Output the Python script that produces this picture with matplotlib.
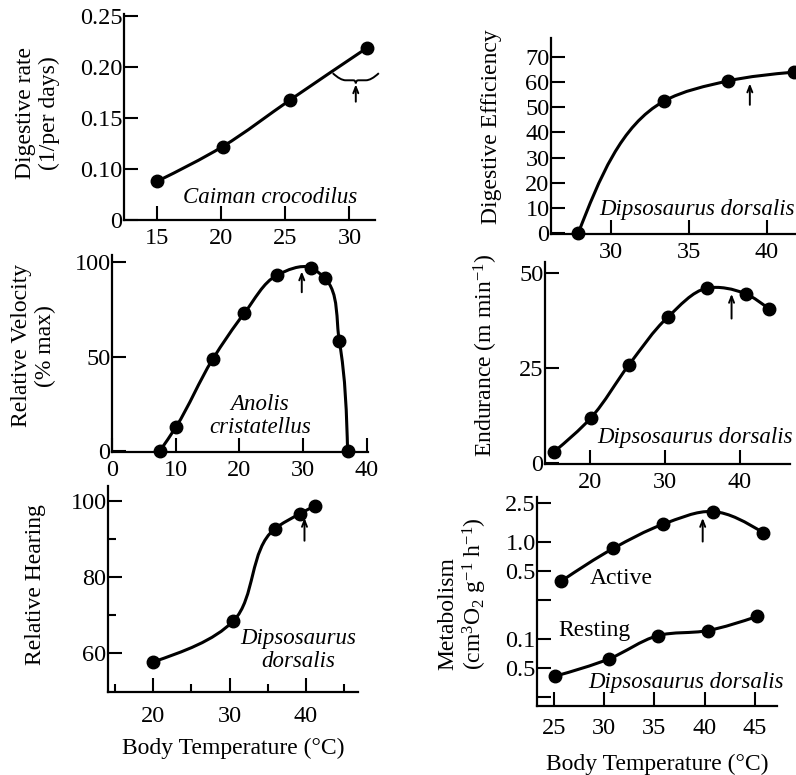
import numpy as np
import matplotlib
matplotlib.use('Agg')
import matplotlib.pyplot as plt
from matplotlib.path import Path
from matplotlib.patches import PathPatch
from matplotlib.ticker import FixedLocator, NullLocator

plt.rcParams['font.family'] = ['Liberation Serif', 'DejaVu Serif']
plt.rcParams['mathtext.fontset'] = 'custom'
plt.rcParams['mathtext.rm'] = 'Liberation Serif'
plt.rcParams['mathtext.it'] = 'Liberation Serif:italic'

# --- data ---
caiman_t = [15, 20.1, 25.4, 31.4]
caiman_rate = [0.088, 0.122, 0.168, 0.219]

eff_t = [27.9, 33.4, 37.5, 41.7]
eff_val = [0, 52.5, 60.5, 64]

anolis_t = [7.5, 10.0, 15.8, 20.8, 25.9, 31.2, 33.4, 35.7, 37.0]
anolis_vel = [0, 12.5, 48.5, 73, 93, 97, 91.5, 58, 0]

endur_t = [15.2, 20.1, 25.2, 30.4, 35.6, 40.8, 43.9]
endur_val = [2.9, 11.8, 25.8, 38.4, 46, 44.5, 40.5]

hear_t = [20, 30.5, 35.9, 39.2, 41.2]
hear_val = [57.6, 68.4, 92.6, 96.6, 98.7]

active_t = [25.7, 30.9, 35.8, 40.8, 45.8]
active_val = [0.39, 0.85, 1.50, 2.04, 1.24]
resting_t = [25.1, 30.5, 35.3, 40.3, 45.2]
resting_val = [0.041, 0.062, 0.107, 0.121, 0.169]

# preferred temperature arrows: (x, tail y, tip y)
arrow_caiman = (30.5, 0.166, 0.183)
arrow_eff = (38.9, 51, 59.5)
arrow_anolis = (29.8, 84, 95)
arrow_endur = (38.9, 38, 44.5)
arrow_hear = (39.8, 89.5, 95.5)
arrow_metab = (39.8, 1.0, 1.75)

TICK = 17.5
LAB = 17
SPEC = 16.5

W, H = 796, 775
fig = plt.figure(figsize=(W / 100, H / 100), dpi=100)


def panel(l, t, r, b):
    ax = fig.add_axes([l / W, 1 - b / H, (r - l) / W, (b - t) / H])
    ax.spines['top'].set_visible(False)
    ax.spines['right'].set_visible(False)
    for s in ('left', 'bottom'):
        ax.spines[s].set_linewidth(1.6)
    ax.tick_params(direction='in', length=10, width=1.5, labelsize=TICK)
    ax.tick_params(axis='y', pad=1)
    ax.tick_params(axis='x', pad=6)
    ax.tick_params(which='minor', direction='in', length=6, width=1.5)
    return ax


def curve(ax, x, y):
    # smooth Hermite/Bezier curve through the points, built in display space
    D = ax.transData.transform(np.column_stack([x, y]))
    n = len(D)
    h = np.linalg.norm(np.diff(D, axis=0), axis=1)
    u = np.diff(D, axis=0) / h[:, None]
    T = np.zeros_like(D)
    for i in range(1, n - 1):
        T[i] = (u[i - 1] * h[i] + u[i] * h[i - 1]) / (h[i - 1] + h[i])
    T[0] = (3 * u[0] - T[1]) / 2 if n > 2 else u[0]
    T[-1] = (3 * u[-1] - T[-2]) / 2 if n > 2 else u[-1]
    verts = [D[0]]
    codes = [Path.MOVETO]
    for i in range(n - 1):
        verts += [D[i] + T[i] * h[i] / 3, D[i + 1] - T[i + 1] * h[i] / 3, D[i + 1]]
        codes += [Path.CURVE4] * 3
    verts = ax.transData.inverted().transform(np.array(verts))
    ax.add_patch(PathPatch(Path(verts, codes), fill=False, lw=2.2,
                           edgecolor='black', capstyle='round', zorder=2))
    ax.plot(x, y, 'o', color='black', markersize=9, zorder=3, clip_on=False)


def pref_arrow(ax, a):
    ax.annotate('', xy=(a[0], a[2]), xytext=(a[0], a[1]),
                arrowprops=dict(arrowstyle='->,head_length=0.45,head_width=0.18',
                                lw=1.4, color='black', shrinkA=0, shrinkB=0))


def species(ax, x, y, s):
    ax.text(x, y, s, style='italic', fontsize=SPEC, ha='center', va='center',
            linespacing=1.1)


# ---- Caiman crocodilus ----
ax1 = panel(124, 14, 375, 220)
ax1.set_xlim(12.4, 32.0)
ax1.set_ylim(0.05, 0.252)
curve(ax1, caiman_t, caiman_rate)
ax1.set_xticks([15, 20, 25, 30])
ax1.set_yticks([0.05, 0.10, 0.15, 0.20, 0.25])
ax1.set_yticklabels(['0', '0.10', '0.15', '0.20', '0.25'])
ax1.set_ylabel('Digestive rate\n(1/per days)', fontsize=LAB, linespacing=1.15)
ax1.yaxis.set_label_coords(-0.255, 0.52)
species(ax1, 23.8, 0.072, 'Caiman crocodilus')
# curly brace over the preferred range
bx = [28.7, 29.3, 29.7, 30.3, 30.5, 30.5, 30.5, 30.7, 31.3, 31.7, 32.3]
by = [0.194, 0.187, 0.187, 0.187, 0.187, 0.184, 0.187, 0.187, 0.187, 0.187, 0.194]
bcodes = [Path.MOVETO, Path.CURVE3, Path.CURVE3, Path.LINETO, Path.CURVE3, Path.CURVE3,
          Path.CURVE3, Path.CURVE3, Path.LINETO, Path.CURVE3, Path.CURVE3]
ax1.add_patch(PathPatch(Path(np.column_stack([bx, by]), bcodes), fill=False,
                        lw=1.4, edgecolor='black', clip_on=False))
pref_arrow(ax1, arrow_caiman)

# ---- Digestive efficiency ----
ax2 = panel(551, 38, 796, 234)
ax2.set_xlim(26.15, 41.86)
ax2.set_ylim(-0.4, 77.6)
curve(ax2, eff_t, eff_val)
ax2.set_xticks([30, 35, 40])
ax2.set_yticks(range(0, 80, 10))
ax2.set_ylabel('Digestive Efficiency', fontsize=LAB)
ax2.yaxis.set_label_coords(-0.2, 0.55)
species(ax2, 35.5, 9.5, 'Dipsosaurus dorsalis')
pref_arrow(ax2, arrow_eff)

# ---- Anolis cristatellus ----
ax3 = panel(112, 255, 368, 452)
ax3.set_xlim(0, 40.2)
ax3.set_ylim(-0.5, 103.7)
curve(ax3, anolis_t, anolis_vel)
ax3.set_xticks([0, 10, 20, 30, 40])
ax3.set_yticks([0, 50, 100])
ax3.set_ylabel('Relative Velocity\n(% max)', fontsize=LAB, linespacing=1.15)
ax3.yaxis.set_label_coords(-0.22, 0.54)
species(ax3, 23.2, 18.5, 'Anolis\ncristatellus')
pref_arrow(ax3, arrow_anolis)

# ---- Endurance ----
ax4 = panel(545, 262, 790, 464)
ax4.set_xlim(14, 46.7)
ax4.set_ylim(-0.3, 52.9)
curve(ax4, endur_t, endur_val)
ax4.set_xticks([20, 30, 40])
ax4.set_yticks([0, 25, 50])
ax4.set_ylabel('Endurance (m min$^{-1}$)', fontsize=LAB)
ax4.yaxis.set_label_coords(-0.185, 0.535)
species(ax4, 34, 6.8, 'Dipsosaurus dorsalis')
pref_arrow(ax4, arrow_endur)

# ---- Relative hearing ----
ax5 = panel(108, 486, 358, 692)
ax5.set_xlim(14.1, 46.8)
ax5.set_ylim(49.7, 103.9)
curve(ax5, hear_t, hear_val)
ax5.set_xticks([20, 30, 40])
ax5.set_xticks([15, 25, 35, 45], minor=True)
ax5.set_yticks([60, 80, 100])
ax5.set_yticks([70, 90], minor=True)
ax5.tick_params(axis='x', pad=10)
ax5.set_ylabel('Relative Hearing', fontsize=LAB)
ax5.yaxis.set_label_coords(-0.25, 0.52)
ax5.set_xlabel('Body Temperature (°C)', fontsize=LAB, labelpad=8)
species(ax5, 39, 60.8, 'Dipsosaurus\ndorsalis')
pref_arrow(ax5, arrow_hear)

# ---- Metabolism ----
ax6 = panel(537, 497, 777, 706)
ax6.set_yscale('log')
ax6.set_xlim(23.3, 47.2)
ax6.set_ylim(0.0202, 2.88)
curve(ax6, active_t, active_val)
curve(ax6, resting_t, resting_val)
ax6.set_xticks([25, 30, 35, 40, 45])
ax6.yaxis.set_major_locator(FixedLocator([0.025, 0.05, 0.1, 0.25, 0.5, 1.0, 2.5]))
ax6.yaxis.set_minor_locator(NullLocator())
ax6.set_yticklabels(['', '0.5', '0.1', '', '0.5', '1.0', '2.5'])
ax6.tick_params(axis='x', pad=9)
ax6.set_ylabel('Metabolism\n(cm$^3$O$_2$ g$^{-1}$ h$^{-1}$)', fontsize=LAB,
               linespacing=1.1, multialignment='left')
ax6.yaxis.set_label_coords(-0.2, 0.54)
ax6.set_xlabel('Body Temperature (°C)', fontsize=LAB, labelpad=10)
ax6.text(31.7, 0.414, 'Active', fontsize=LAB, ha='center', va='center')
ax6.text(29.0, 0.121, 'Resting', fontsize=LAB, ha='center', va='center')
species(ax6, 38.1, 0.035, 'Dipsosaurus dorsalis')
pref_arrow(ax6, arrow_metab)

fig.savefig('out.png', dpi=100, facecolor='white')
